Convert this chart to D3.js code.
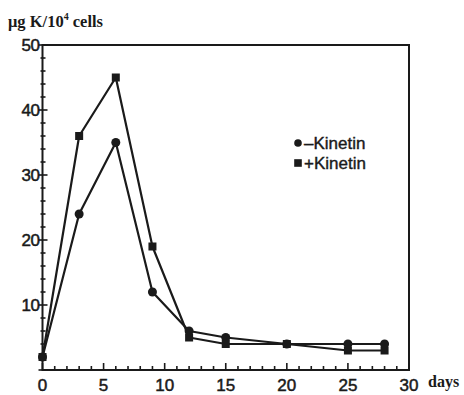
<!DOCTYPE html>
<html>
<head>
<meta charset="utf-8">
<script src="https://cdn.jsdelivr.net/npm/d3@7"></script>
<style>
  html, body { margin: 0; padding: 0; background: #fff; }
  svg { display: block; }
</style>
</head>
<body>
<svg id="chart" width="464" height="395"></svg>
<script>
// Potassium content per 10^4 cells over culture time
const days = [0, 3, 6, 9, 12, 15, 20, 25, 28];
const minusKinetin = [2, 24, 35, 12, 6, 5, 4, 4, 4];
const plusKinetin = [2, 36, 45, 19, 5, 4, 4, 3, 3];
const xTicks = [0, 5, 10, 15, 20, 25, 30];
const yTicks = [10, 20, 30, 40, 50];
const legendLabels = ["\u2013Kinetin", "+Kinetin"];

const svg = d3.select("#chart");
const x = d3.scaleLinear().domain([0, 30]).range([42.5, 409]);
const y = d3.scaleLinear().domain([0, 50]).range([370, 45]);
const ink = "#1a1a1a";
const sans = "Liberation Sans, Arial, sans-serif";
const serif = "Liberation Serif, Times New Roman, serif";

// frame
svg.append("rect")
  .attr("x", x(0)).attr("y", y(50))
  .attr("width", x(30) - x(0)).attr("height", y(0) - y(50))
  .attr("fill", "none").attr("stroke", ink).attr("stroke-width", 2);

// x axis: minor ticks every day, longer ticks every 5 days, drawn inward
const xAxis = svg.append("g").attr("transform", `translate(0,${y(0)})`);
xAxis.selectAll("line").data(d3.range(0, 31))
  .join("line")
  .attr("x1", d => x(d)).attr("x2", d => x(d))
  .attr("y1", 0).attr("y2", d => d % 5 === 0 ? -7 : -4)
  .attr("stroke", ink).attr("stroke-width", 1.6);
xAxis.selectAll("text").data(xTicks)
  .join("text")
  .attr("x", d => x(d)).attr("y", 21)
  .attr("text-anchor", "middle")
  .attr("font-family", sans)
  .attr("font-size", 17).attr("fill", ink)
  .attr("stroke", ink).attr("stroke-width", 0.5)
  .text(d => d);

// y axis: minor ticks every 2 units
const yAxis = svg.append("g").attr("transform", `translate(${x(0)},0)`);
yAxis.selectAll("line").data(d3.range(0, 51, 2))
  .join("line")
  .attr("y1", d => y(d)).attr("y2", d => y(d))
  .attr("x1", d => d % 10 === 0 ? -4 : -2).attr("x2", d => d % 10 === 0 ? 5 : 3)
  .attr("stroke", ink).attr("stroke-width", 1.6);
yAxis.selectAll("text").data(yTicks)
  .join("text")
  .attr("x", -3).attr("y", d => y(d))
  .attr("dy", "0.36em")
  .attr("text-anchor", "end")
  .attr("font-family", sans)
  .attr("font-size", 17).attr("letter-spacing", -0.5).attr("fill", ink)
  .attr("stroke", ink).attr("stroke-width", 0.5)
  .text(d => d);

// axis titles
const title = svg.append("text")
  .attr("x", 8).attr("y", 27)
  .attr("font-family", serif)
  .attr("font-weight", "bold").attr("font-size", 16.5).attr("fill", ink);
title.append("tspan").text("\u03bcg K/10");
title.append("tspan").attr("font-size", 10).attr("dy", -7).text("4");
title.append("tspan").attr("dy", 7).text(" cells");

svg.append("text")
  .attr("x", 428).attr("y", 387)
  .attr("font-family", serif)
  .attr("font-weight", "bold").attr("font-size", 16).attr("fill", ink)
  .text("days");

// series
const line = d3.line().x(d => x(d[0])).y(d => y(d[1]));
const minusPts = days.map((d, i) => [d, minusKinetin[i]]);
const plusPts = days.map((d, i) => [d, plusKinetin[i]]);

[minusPts, plusPts].forEach(pts => {
  svg.append("path").datum(pts)
    .attr("d", line).attr("fill", "none")
    .attr("stroke", ink).attr("stroke-width", 2.2).attr("stroke-linejoin", "round");
});

svg.append("g").selectAll("circle").data(minusPts)
  .join("circle")
  .attr("cx", d => x(d[0])).attr("cy", d => y(d[1])).attr("r", 4.5)
  .attr("fill", ink);

const sq = 8;
svg.append("g").selectAll("rect").data(plusPts)
  .join("rect")
  .attr("x", d => x(d[0]) - sq / 2).attr("y", d => y(d[1]) - sq / 2)
  .attr("width", sq).attr("height", sq)
  .attr("fill", ink);

// legend
const legend = svg.append("g").attr("transform", "translate(298,143)");
legend.append("circle").attr("cx", 0).attr("cy", 0).attr("r", 3.8).attr("fill", ink);
legend.append("rect").attr("x", -3.8).attr("y", 16.2).attr("width", 7.6).attr("height", 7.6).attr("fill", ink);
legend.selectAll("text").data(legendLabels)
  .join("text")
  .attr("x", 6).attr("y", (d, i) => i * 20)
  .attr("dy", "0.36em")
  .attr("font-family", sans)
  .attr("font-size", 17).attr("fill", ink)
  .attr("stroke", ink).attr("stroke-width", 0.4)
  .text(d => d);
</script>
</body>
</html>
